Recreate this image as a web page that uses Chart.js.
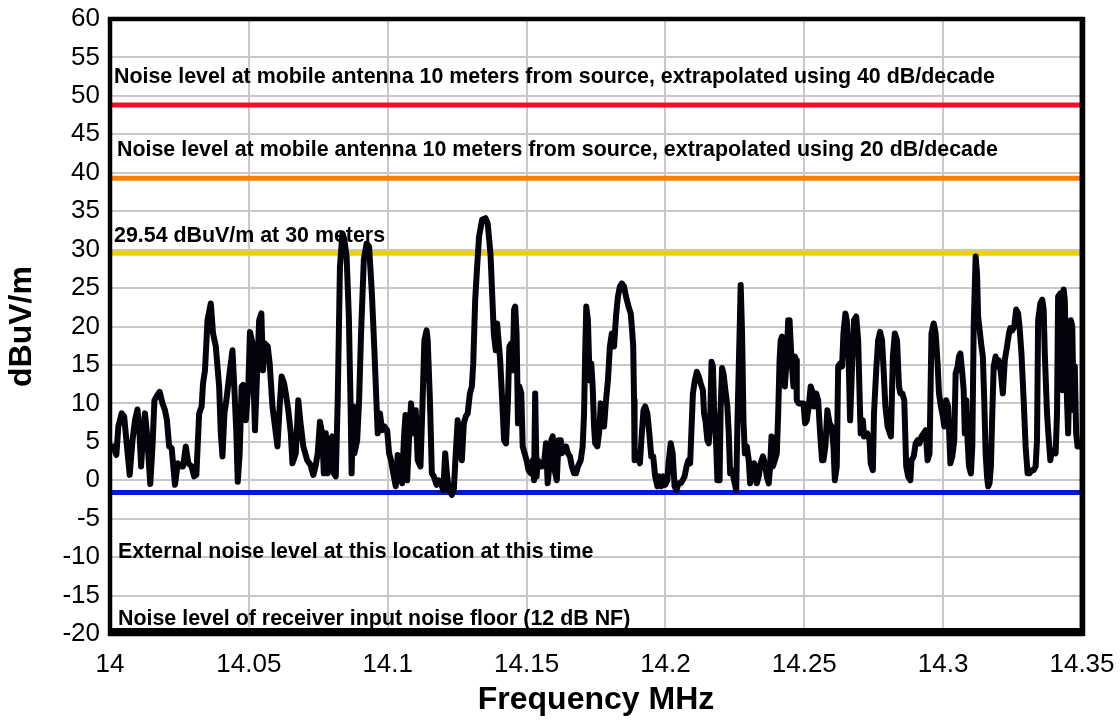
<!DOCTYPE html>
<html>
<head>
<meta charset="utf-8">
<title>Noise level, 14 MHz band</title>
<script src="https://cdn.jsdelivr.net/npm/chart.js@4.4.1/dist/chart.umd.min.js"></script>
<style>
  body { margin: 0; background: #fff; }
  #wrap { width: 1120px; height: 722px; }
</style>
</head>
<body>
<div id="wrap"><canvas id="noiseChart" width="1120" height="722"></canvas></div>
<script>
// axis ticks
const xTicks = [14, 14.05, 14.1, 14.15, 14.2, 14.25, 14.3, 14.35];
const yTicks = [-20, -15, -10, -5, 0, 5, 10, 15, 20, 25, 30, 35, 40, 45, 50, 55, 60];

// measured spectrum (MHz / dBuV/m)
const freqMHz = [
  14.0011, 14.0023, 14.0030, 14.0042, 14.0051, 14.0059, 14.0071, 14.0081, 14.0090, 14.0099,
  14.0105, 14.0112, 14.0119, 14.0126, 14.0133, 14.0145, 14.0153, 14.0160, 14.0171, 14.0179,
  14.0189, 14.0198, 14.0205, 14.0213, 14.0222, 14.0234, 14.0244, 14.0256, 14.0263, 14.0273,
  14.0282, 14.0294, 14.0303, 14.0311, 14.0321, 14.0330, 14.0335, 14.0342, 14.0351, 14.0363,
  14.0371, 14.0381, 14.0393, 14.0399, 14.0405, 14.0412, 14.0419, 14.0429, 14.0441, 14.0447,
  14.0455, 14.0460, 14.0467, 14.0474, 14.0479, 14.0489, 14.0498, 14.0504, 14.0513, 14.0522,
  14.0531, 14.0537, 14.0545, 14.0551, 14.0558, 14.0568, 14.0575, 14.0585, 14.0594, 14.0603,
  14.0611, 14.0618, 14.0627, 14.0633, 14.0642, 14.0651, 14.0657, 14.0669, 14.0678, 14.0685,
  14.0696, 14.0710, 14.0722, 14.0732, 14.0740, 14.0748, 14.0756, 14.0764, 14.0770, 14.0777,
  14.0784, 14.0792, 14.0800, 14.0806, 14.0813, 14.0820, 14.0828, 14.0837, 14.0844, 14.0852,
  14.0860, 14.0866, 14.0870, 14.0876, 14.0880, 14.0890, 14.0897, 14.0904, 14.0914, 14.0924,
  14.0933, 14.0943, 14.0952, 14.0960, 14.0964, 14.0972, 14.0980, 14.0988, 14.0998, 14.1005,
  14.1012, 14.1020, 14.1029, 14.1036, 14.1044, 14.1052, 14.1058, 14.1064, 14.1070, 14.1076,
  14.1084, 14.1094, 14.1101, 14.1108, 14.1118, 14.1125, 14.1132, 14.1140, 14.1144, 14.1152,
  14.1159, 14.1166, 14.1176, 14.1183, 14.1190, 14.1200, 14.1207, 14.1214, 14.1221, 14.1231,
  14.1238, 14.1245, 14.1252, 14.1260, 14.1267, 14.1274, 14.1281, 14.1288, 14.1296, 14.1303,
  14.1308, 14.1315, 14.1322, 14.1329, 14.1340, 14.1352, 14.1360, 14.1370, 14.1377, 14.1382,
  14.1389, 14.1394,
  14.1399, 14.1405, 14.1411, 14.1419, 14.1426, 14.1433, 14.1438, 14.1445, 14.1450, 14.1455,
  14.1459, 14.1464, 14.1469, 14.1474, 14.1481, 14.1486, 14.1493, 14.1500, 14.1507, 14.1515,
  14.1522, 14.1527, 14.1531, 14.1536, 14.1541, 14.1548, 14.1555, 14.1563, 14.1570, 14.1576,
  14.1582, 14.1589, 14.1594, 14.1601, 14.1609, 14.1615, 14.1623, 14.1627, 14.1635, 14.1642,
  14.1649, 14.1656, 14.1663, 14.1671, 14.1678, 14.1685, 14.1695, 14.1702, 14.1707, 14.1711,
  14.1715, 14.1721, 14.1727, 14.1733, 14.1738, 14.1743, 14.1747, 14.1755, 14.1762, 14.1767,
  14.1774, 14.1779, 14.1786, 14.1793, 14.1800, 14.1807, 14.1815, 14.1822, 14.1829, 14.1836,
  14.1843, 14.1851, 14.1858, 14.1867, 14.1875, 14.1879, 14.1884, 14.1887, 14.1889, 14.1894,
  14.1901, 14.1908, 14.1915, 14.1921, 14.1927, 14.1935, 14.1942, 14.1949, 14.1956, 14.1963,
  14.1971, 14.1978, 14.1985, 14.1992, 14.1999, 14.2007, 14.2011, 14.2019, 14.2026, 14.2033,
  14.2040, 14.2047, 14.2055, 14.2062, 14.2069, 14.2076, 14.2083,
  14.2089, 14.2099, 14.2106, 14.2113, 14.2120, 14.2127, 14.2135, 14.2139, 14.2144, 14.2151,
  14.2156, 14.2161, 14.2166, 14.2171, 14.2175, 14.2183, 14.2187, 14.2195, 14.2199, 14.2204,
  14.2209, 14.2216, 14.2223, 14.2228, 14.2233, 14.2240, 14.2247, 14.2255, 14.2259, 14.2267,
  14.2271, 14.2276, 14.2281, 14.2286, 14.2293, 14.2300, 14.2305, 14.2312, 14.2319, 14.2324,
  14.2329, 14.2336, 14.2343, 14.2351, 14.2358, 14.2365, 14.2372, 14.2377, 14.2382, 14.2387,
  14.2394, 14.2401, 14.2406, 14.2411, 14.2415, 14.2420, 14.2425, 14.2430, 14.2437, 14.2442,
  14.2447, 14.2454, 14.2461, 14.2466, 14.2471, 14.2473, 14.2480, 14.2490, 14.2497, 14.2503,
  14.2509, 14.2516, 14.2523, 14.2531, 14.2535, 14.2543, 14.2550, 14.2557, 14.2564, 14.2569,
  14.2576, 14.2583, 14.2591, 14.2598, 14.2605, 14.2610, 14.2617, 14.2622, 14.2629, 14.2636,
  14.2641, 14.2648, 14.2653, 14.2660, 14.2665, 14.2672, 14.2679, 14.2687, 14.2694, 14.2699,
  14.2703, 14.2711, 14.2715, 14.2723, 14.2727, 14.2735, 14.2739, 14.2747, 14.2751, 14.2759,
  14.2766, 14.2773, 14.2780, 14.2785, 14.2792,
  14.2800, 14.2812, 14.2819, 14.2826, 14.2834, 14.2841, 14.2846, 14.2853, 14.2860, 14.2867,
  14.2874, 14.2882, 14.2886, 14.2894, 14.2901, 14.2908, 14.2915, 14.2922, 14.2930, 14.2937,
  14.2944, 14.2951, 14.2958, 14.2966, 14.2973, 14.2980, 14.2985, 14.2992, 14.2999, 14.3004,
  14.3011, 14.3018, 14.3026, 14.3033, 14.3040, 14.3045, 14.3052, 14.3057, 14.3062, 14.3069,
  14.3074, 14.3078, 14.3083, 14.3088, 14.3093, 14.3100, 14.3105, 14.3110, 14.3117, 14.3122,
  14.3126, 14.3134, 14.3138, 14.3143, 14.3148, 14.3153, 14.3158, 14.3162, 14.3167, 14.3172,
  14.3177, 14.3182, 14.3189, 14.3196, 14.3201, 14.3208, 14.3215, 14.3222, 14.3230, 14.3237,
  14.3242, 14.3249, 14.3256, 14.3263, 14.3270, 14.3275, 14.3282, 14.3290, 14.3297, 14.3304,
  14.3311, 14.3318, 14.3326, 14.3333, 14.3338, 14.3342, 14.3350, 14.3357, 14.3362, 14.3366,
  14.3374, 14.3378, 14.3386, 14.3390, 14.3398, 14.3405, 14.3410, 14.3414, 14.3422, 14.3429,
  14.3434, 14.3438, 14.3446, 14.3450, 14.3455, 14.3460, 14.3465, 14.3470, 14.3474, 14.3479,
  14.3484, 14.3490
];

const levelDbuv = [
  4.4, 3.3, 7.0, 8.7, 8.3, 5.2, 0.7, 5.2, 7.8, 9.2,
  7.0, 1.8, 6.1, 8.7, 6.1, -0.5, 4.4, 10.4, 11.1, 11.5,
  10.0, 9.1, 7.8, 4.4, 4.2, -0.6, 2.2, 1.8, 1.8, 4.4,
  2.2, 1.8, 0.5, 0.7, 8.7, 9.6, 12.6, 14.3, 20.8, 23.0,
  19.1, 17.4, 12.2, 6.1, 3.1, 8.7, 10.4, 13.5, 16.9, 12.6,
  6.1, -0.2, 3.5, 12.2, 12.4, 7.8, 12.2, 19.3, 17.8, 6.5,
  15.2, 20.8, 21.7, 14.3, 17.8, 17.4, 15.2, 9.6, 7.0, 4.4,
  9.6, 13.5, 12.6, 11.3, 9.1, 6.1, 2.2, 3.5, 10.4, 7.8,
  4.4, 2.6, 2.0, 0.7, 1.8, 3.5, 7.6, 6.1, 0.9, 6.1,
  0.9, 5.2, 5.7, 0.9, 0.5, 10.4, 27.8, 32.1, 31.3, 29.1,
  21.3, 10.4, 0.9, 9.6, 3.5, 5.2, 10.4, 19.1, 28.7, 30.8,
  30.4, 24.3, 16.9, 9.6, 6.1, 8.7, 6.5, 7.0, 6.5, 3.5,
  2.6, 0.9, -0.8, 3.3, 0.9, -0.4, 5.2, 8.5, 0.0, 4.8,
  10.0, 6.1, 9.1, 2.6, 1.8, 9.6, 18.2, 19.5, 18.2, 10.4,
  0.9, 0.5, -0.6, 0.0, -0.2, -1.3, 3.5, 0.5, -1.3, -1.9,
  -1.3, 3.5, 7.8, 3.5, 2.6, 7.4, 8.3, 8.7, 11.3, 12.2,
  15.2, 23.5, 27.8, 31.7, 33.9, 34.1, 33.4, 29.5, 23.5, 19.1,
  16.9, 20.4,
  18.2, 15.6, 11.3, 5.2, 4.8, 10.4, 17.4, 17.8, 14.3, 22.2,
  22.6, 19.1, 7.4, 12.2, 11.3, 4.4, 3.5, 2.6, 1.3, 0.9,
  2.6, 0.0, 11.3, 0.5, 2.6, 2.2, 1.8, 2.2, 4.8, -0.4,
  1.8, 5.2, 5.7, 1.3, 0.0, 5.2, 5.2, 3.5, 4.4, 4.4,
  3.5, 3.1, 1.8, 0.9, 0.9, 1.8, 2.6, 4.4, 8.7, 16.5,
  22.6, 20.8, 13.0, 15.2, 12.2, 7.0, 4.8, 4.4, 6.5, 10.0,
  8.7, 7.0, 10.4, 13.0, 17.4, 19.1, 17.4, 21.3, 23.9, 25.2,
  25.6, 25.2, 23.9, 22.6, 21.7, 20.0, 17.4, 10.4, 2.6, 3.5,
  3.5, 2.2, 6.1, 9.1, 9.6, 8.7, 6.1, 3.1, 3.1, 0.5,
  -0.8, 0.5, -0.8, 0.5, -0.6, 0.0, 2.2, 4.8, 3.5, -0.8,
  -1.3, -0.4, -0.4, 0.0, 0.5, 1.8, 2.6,
  2.2, 11.3, 13.0, 14.1, 13.5, 12.6, 11.7, 8.7, 7.8, 5.2,
  4.8, 7.8, 15.4, 14.8, 9.6, 4.4, 0.0, 0.0, 9.6, 14.6,
  13.9, 11.7, 9.6, 6.1, 0.9, 1.3, 0.0, -1.3, 7.0, 19.1,
  25.4, 19.1, 7.8, 3.5, 4.4, 2.6, -0.4, 0.5, 2.2, 1.8,
  -0.4, 0.5, 2.2, 3.1, 2.2, 0.5, -0.4, 1.8, 5.7, 1.8,
  2.6, 3.5, 8.7, 15.6, 18.2, 18.7, 17.8, 12.2, 16.1, 20.8,
  20.8, 15.6, 12.2, 16.1, 15.6, 10.4, 10.0, 10.0, 10.0, 7.4,
  7.8, 9.6, 12.2, 11.3, 9.6, 11.3, 10.4, 6.1, 2.6, 2.6,
  4.4, 9.1, 7.4, 7.0, 4.4, 0.0, 1.8, 14.8, 15.2, 14.8,
  19.1, 21.7, 20.8, 15.2, 7.8, 14.8, 20.8, 21.3, 18.2, 11.3,
  6.1, 7.8, 5.7, 6.1, 6.1, 5.2, 2.2, 1.3, 8.7, 14.3,
  18.2, 19.3, 18.2, 14.8, 9.6,
  7.0, 5.7, 16.1, 19.1, 18.2, 12.2, 11.3, 11.3, 10.4, 1.8,
  0.5, 0.0, 2.6, 3.1, 4.8, 5.2, 4.8, 5.7, 6.1, 6.5,
  2.6, 3.5, 19.1, 20.4, 19.1, 15.2, 11.3, 9.6, 8.3, 7.0,
  10.4, 9.6, 2.2, 3.1, 5.2, 13.9, 14.8, 16.1, 16.5, 13.9,
  11.7, 6.1, 10.4, 5.2, 1.8, 0.9, 4.4, 20.0, 29.1, 26.9,
  21.3, 18.7, 17.4, 16.1, 10.4, 3.5, 0.5, -0.8, -0.4, 1.8,
  8.7, 14.8, 16.1, 14.8, 15.6, 13.9, 11.3, 15.6, 17.4, 19.1,
  19.8, 19.5, 20.0, 22.2, 21.7, 20.0, 16.5, 10.4, 4.4, 0.9,
  0.9, 1.3, 1.3, 1.8, 5.2, 20.8, 23.0, 23.5, 22.2, 16.5,
  8.7, 6.5, 2.6, 3.5, 3.9, 3.5, 8.7, 23.9, 24.3, 11.7,
  24.8, 23.5, 10.4, 6.1, 13.9, 20.8, 20.0, 9.1, 14.8, 6.1,
  4.4, 4.4
];

// reference levels
const refNames = ["40 dB/decade", "20 dB/decade", "30 meters", "External noise", "Receiver noise floor"];
const refLevels = [48.8, 39.3, 29.54, -1.6, -19.6];
const refColors = ["#ff0a2d", "#ff8000", "#ecd000", "#0018d8", "#000000"];

// text notes (baseline in dBuV/m)
const noteTexts = [
  "Noise level at mobile antenna 10 meters from source, extrapolated using 40 dB/decade",
  "Noise level at mobile antenna 10 meters from source, extrapolated using 20 dB/decade",
  "29.54 dBuV/m at 30 meters",
  "External noise level at this location at this time",
  "Noise level of receiver input noise floor (12 dB NF)"
];
const noteLevels = [51.7, 42.2, 31.0, -10.1, -18.8];
const noteIndent = [4, 7, 4, 8, 8];

const FONT = '"Liberation Sans", Arial, Helvetica, sans-serif';

const tracePoints = freqMHz.map((f, i) => ({ x: f, y: levelDbuv[i] }));

const datasets = [{
  label: "Measured",
  data: tracePoints,
  borderColor: "#03030c",
  borderWidth: 6,
  borderJoinStyle: "round",
  borderCapStyle: "round",
  pointRadius: 0,
  showLine: true,
  tension: 0
}];

refLevels.forEach((lvl, i) => {
  datasets.push({
    label: refNames[i],
    data: [{ x: xTicks[0], y: lvl }, { x: xTicks[xTicks.length - 1], y: lvl }],
    borderColor: refColors[i],
    borderWidth: i === refLevels.length - 1 ? 6 : 5,
    pointRadius: 0,
    showLine: true
  });
});

const notesAndFrame = {
  id: "notesAndFrame",
  beforeDatasetsDraw(chart) {
    const { ctx, chartArea, scales } = chart;
    ctx.save();
    ctx.font = "bold 21.4px " + FONT;
    ctx.fillStyle = "#000";
    ctx.textBaseline = "alphabetic";
    noteTexts.forEach((t, i) => {
      ctx.fillText(t, chartArea.left + noteIndent[i], scales.y.getPixelForValue(noteLevels[i]));
    });
    ctx.restore();
  },
  afterDatasetsDraw(chart) {
    const { ctx, chartArea } = chart;
    ctx.save();
    ctx.strokeStyle = "#000";
    ctx.lineWidth = 4.5;
    ctx.strokeRect(chartArea.left, chartArea.top, chartArea.right - chartArea.left, chartArea.bottom - chartArea.top);
    // slightly heavier right edge, like the original frame
    ctx.lineWidth = 5.5;
    ctx.beginPath();
    ctx.moveTo(chartArea.right + 0.5, chartArea.top - 2);
    ctx.lineTo(chartArea.right + 0.5, chartArea.bottom + 2);
    ctx.stroke();
    ctx.restore();
  }
};

new Chart(document.getElementById("noiseChart"), {
  type: "scatter",
  data: { datasets: datasets },
  options: {
    responsive: false,
    animation: false,
    layout: { padding: { top: 19, right: 38, bottom: 0, left: 0 } },
    plugins: {
      legend: { display: false },
      tooltip: { enabled: false }
    },
    scales: {
      x: {
        type: "linear",
        min: xTicks[0],
        max: xTicks[xTicks.length - 1],
        afterBuildTicks: (scale) => { scale.ticks = xTicks.map(v => ({ value: v })); },
        afterFit: (scale) => {
          scale.height = 88;
          scale.paddingLeft = 0;
          scale.paddingRight = 0;
        },
        grid: { color: "#c8c8c8", lineWidth: 2, drawTicks: false },
        border: { display: false },
        ticks: {
          autoSkip: false,
          maxRotation: 0,
          padding: 15,
          color: "#000",
          font: { family: FONT, size: 26 },
          callback: (v) => String(parseFloat(Number(v).toFixed(2)))
        },
        title: {
          display: true,
          text: "Frequency MHz",
          color: "#000",
          font: { family: FONT, size: 32, weight: "bold" },
          padding: { top: 0, bottom: 3 }
        }
      },
      y: {
        min: yTicks[0],
        max: yTicks[yTicks.length - 1],
        afterBuildTicks: (scale) => { scale.ticks = yTicks.map(v => ({ value: v })); },
        afterFit: (scale) => {
          scale.width = 110;
          scale.paddingTop = 0;
          scale.paddingBottom = 0;
        },
        grid: { color: "#c8c8c8", lineWidth: 2, drawTicks: false },
        border: { display: false },
        ticks: {
          padding: 10,
          color: "#000",
          font: { family: FONT, size: 26 }
        },
        title: {
          display: true,
          text: "dBuV/m",
          color: "#000",
          font: { family: FONT, size: 32, weight: "bold" },
          padding: { top: 3, bottom: 0 }
        }
      }
    }
  },
  plugins: [notesAndFrame]
});
</script>
</body>
</html>
